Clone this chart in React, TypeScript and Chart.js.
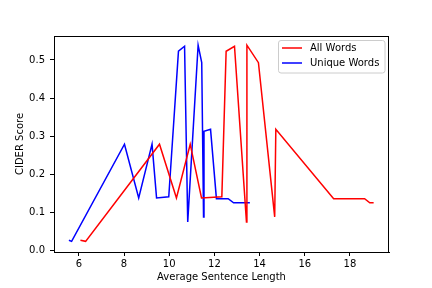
import React, { useEffect, useRef } from "react";
import { Chart, registerables } from "chart.js";

Chart.register(...registerables);

const allX = [6.07, 6.3, 9.57, 10.32, 10.93, 11.43, 12.33, 12.52, 12.89, 13.42, 13.44, 13.95, 14.67, 14.72, 17.28, 18.65, 18.88, 19.05];
const allY = [0.027, 0.024, 0.279, 0.138, 0.279, 0.138, 0.141, 0.523, 0.536, 0.075, 0.539, 0.493, 0.088, 0.318, 0.136, 0.136, 0.125, 0.125];
const uniqueX = [5.56, 5.68, 8.02, 8.65, 9.24, 9.44, 9.98, 10.41, 10.68, 10.82, 11.28, 11.44, 11.52, 11.54, 11.83, 12.09, 12.61, 12.85, 13.57];
const uniqueY = [0.027, 0.024, 0.279, 0.138, 0.279, 0.138, 0.141, 0.523, 0.536, 0.075, 0.539, 0.493, 0.088, 0.313, 0.318, 0.136, 0.136, 0.125, 0.125];
const xTicks = [6, 8, 10, 12, 14, 16, 18];
const yTicks = [0.0, 0.1, 0.2, 0.3, 0.4, 0.5];
const seriesNames = ["All Words", "Unique Words"];
const seriesColors = ["#ff0000", "#0000ff"];

const FONT = "'DejaVu Sans', sans-serif";

const framePlugin = {
  id: "frameAndLegend",
  afterDraw(chart: any) {
    const { ctx, chartArea } = chart;
    const { left, right, top, bottom } = chartArea;
    ctx.save();
    ctx.strokeStyle = "#000";
    ctx.lineWidth = 1;
    ctx.beginPath();
    ctx.moveTo(left, top + 0.5);
    ctx.lineTo(right, top + 0.5);
    ctx.moveTo(right - 0.5, top);
    ctx.lineTo(right - 0.5, bottom);
    ctx.stroke();

    // legend box
    const bx = 278.5, by = 40.5, bw = 106.5, bh = 32.5, r = 2.5;
    ctx.beginPath();
    ctx.moveTo(bx + r, by);
    ctx.lineTo(bx + bw - r, by);
    ctx.quadraticCurveTo(bx + bw, by, bx + bw, by + r);
    ctx.lineTo(bx + bw, by + bh - r);
    ctx.quadraticCurveTo(bx + bw, by + bh, bx + bw - r, by + bh);
    ctx.lineTo(bx + r, by + bh);
    ctx.quadraticCurveTo(bx, by + bh, bx, by + bh - r);
    ctx.lineTo(bx, by + r);
    ctx.quadraticCurveTo(bx, by, bx + r, by);
    ctx.closePath();
    ctx.fillStyle = "rgba(255,255,255,0.8)";
    ctx.fill();
    ctx.strokeStyle = "#cccccc";
    ctx.lineWidth = 1;
    ctx.stroke();

    const rows = [48, 63];
    ctx.font = `10px ${FONT}`;
    ctx.textBaseline = "middle";
    ctx.textAlign = "left";
    seriesNames.forEach((name, i) => {
      ctx.strokeStyle = seriesColors[i];
      ctx.lineWidth = 1.5;
      ctx.beginPath();
      ctx.moveTo(282, rows[i]);
      ctx.lineTo(302, rows[i]);
      ctx.stroke();
      ctx.fillStyle = "#000";
      ctx.fillText(name, 310, rows[i]);
    });
    ctx.restore();
  },
};

export default function App() {
  const ref = useRef<HTMLCanvasElement>(null);
  useEffect(() => {
    document.body.style.margin = "0";
    Chart.defaults.font.family = FONT;
    Chart.defaults.font.size = 10;
    Chart.defaults.color = "#000";
    const mk = (xs: number[], ys: number[]) => xs.map((x, i) => ({ x, y: ys[i] }));
    const chart = new Chart(ref.current!, {
      type: "line",
      data: {
        datasets: [
          {
            label: seriesNames[0],
            data: mk(allX, allY),
            borderColor: seriesColors[0],
            borderWidth: 1.5,
            pointRadius: 0,
            tension: 0,
            fill: false,
          },
          {
            label: seriesNames[1],
            data: mk(uniqueX, uniqueY),
            borderColor: seriesColors[1],
            borderWidth: 1.5,
            pointRadius: 0,
            tension: 0,
            fill: false,
          },
        ],
      },
      options: {
        animation: false,
        responsive: false,
        events: [],
        layout: { padding: { top: 36, right: 43, left: 0, bottom: 0 } },
        plugins: { legend: { display: false }, tooltip: { enabled: false } },
        scales: {
          x: {
            type: "linear",
            min: 4.9,
            max: 19.73,
            afterBuildTicks: (s: any) => {
              s.ticks = xTicks.map((v) => ({ value: v }));
            },
            afterFit: (s: any) => {
              s.height = 36;
            },
            ticks: { padding: 2, maxRotation: 0, autoSkip: false, callback: (v: any) => String(v) },
            grid: { drawOnChartArea: false, drawTicks: true, tickLength: 4, color: "#000" },
            border: { color: "#000", width: 1 },
            title: { display: true, text: "Average Sentence Length", padding: { top: 0, bottom: 5 }, font: { size: 10 } },
          },
          y: {
            type: "linear",
            min: -0.004,
            max: 0.563,
            afterBuildTicks: (s: any) => {
              s.ticks = yTicks.map((v) => ({ value: v }));
            },
            afterFit: (s: any) => {
              s.width = 54;
            },
            ticks: { padding: 5, autoSkip: false, callback: (v: any) => Number(v).toFixed(1) },
            grid: { drawOnChartArea: false, drawTicks: true, tickLength: 4, color: "#000" },
            border: { color: "#000", width: 1 },
            title: { display: true, text: "CIDER Score", padding: { top: 14, bottom: 0 }, font: { size: 10 } },
          },
        },
      },
      plugins: [framePlugin],
    });
    return () => chart.destroy();
  }, []);
  return (
    <div style={{ width: 432, height: 288, background: "#fff" }}>
      <canvas ref={ref} width={432} height={288} style={{ display: "block" }} />
    </div>
  );
}
